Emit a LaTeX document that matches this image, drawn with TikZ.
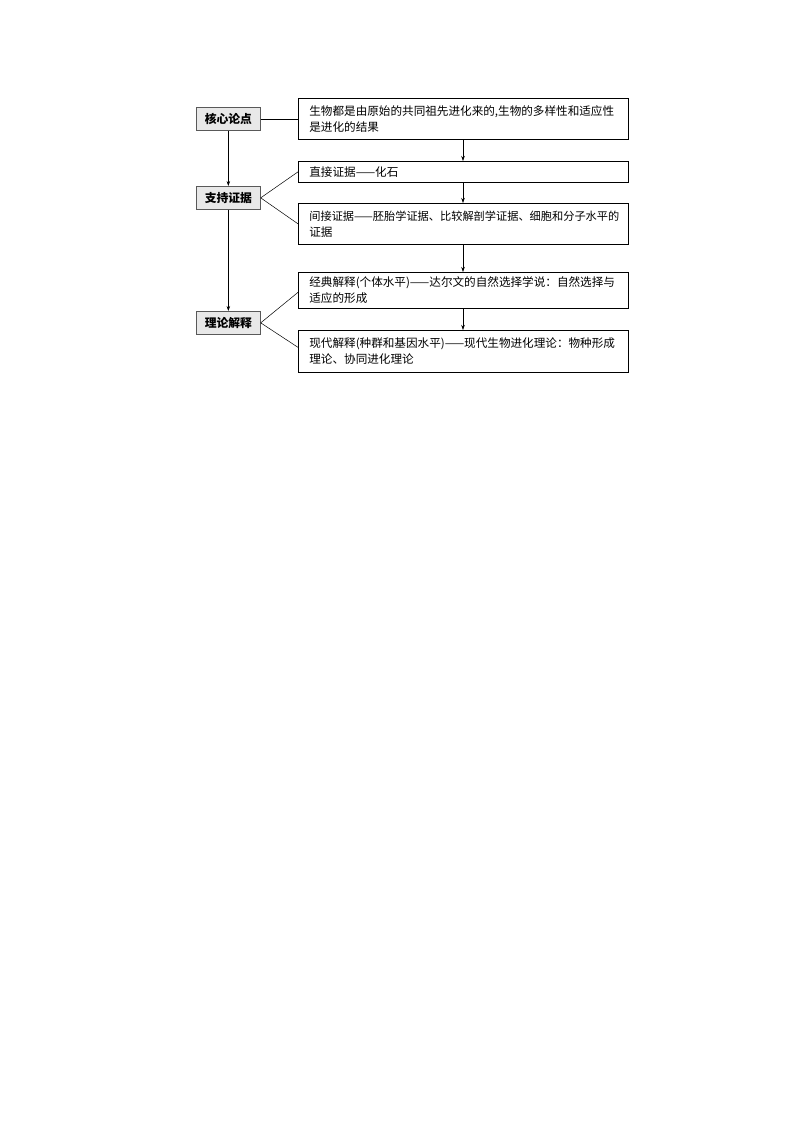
\documentclass[tikz,border=0pt]{standalone}
\usepackage{fontspec}
\setmainfont{Noto Sans CJK SC}
\usetikzlibrary{arrows.meta}
\begin{document}
\begin{tikzpicture}[x=1pt,y=-1pt,
  rbox/.style={draw=black,line width=0.7pt,anchor=north west,minimum width=330pt,inner xsep=11pt,inner ysep=0pt,align=left,text width=308pt,font=\fontsize{11.6}{16}\selectfont},
  lbox/.style={draw=gray!70!black,fill=gray!18,line width=0.7pt,anchor=north west,minimum width=64pt,minimum height=23pt,inner sep=0pt,font=\fontsize{11.8}{14}\selectfont\bfseries},
  arr/.style={-{Stealth[length=5pt,width=3.5pt]},line width=0.5pt},
  ln/.style={line width=0.5pt}]
\useasboundingbox (0,0) rectangle (794,1123);
% left boxes
\node[lbox] (k) at (196,107) {核心论点};
\node[lbox] (z) at (196,186) {支持证据};
\node[lbox] (l) at (196,311) {理论解释};
% right boxes
\node[rbox,minimum height=41pt] (b1) at (298,98) {\mbox{生物都是由原始的共同祖先进化来的,生物的多样性和适应性}\\\mbox{是进化的结果}};
\node[rbox,minimum height=21pt] (b2) at (298,161) {\mbox{直接证据——化石}};
\node[rbox,minimum height=41pt] (b3) at (298,203) {\mbox{\fontsize{11.2}{16}\selectfont 间接证据——胚胎学证据、比较解剖学证据、细胞和分子水平的}\\\mbox{证据}};
\node[rbox,minimum height=36pt] (b4) at (298,272) {\mbox{经典解释(个体水平)——达尔文的自然选择学说：自然选择与}\\\mbox{适应的形成}};
\node[rbox,minimum height=42pt] (b5) at (298,330) {\mbox{现代解释(种群和基因水平)——现代生物进化理论：物种形成}\\\mbox{理论、协同进化理论}};
% arrows right column
\coordinate (ax) at (463,0);
\draw[arr] (b1.south -| ax) -- (b2.north -| ax);
\draw[arr] (b2.south -| ax) -- (b3.north -| ax);
\draw[arr] (b3.south -| ax) -- (b4.north -| ax);
\draw[arr] (b4.south -| ax) -- (b5.north -| ax);
% left column arrows
\draw[arr] (k.south) -- (z.north);
\draw[arr] (z.south) -- (l.north);
% connectors
\draw[ln] (k.east) -- (k.east -| b1.west);
\draw[ln] (z.east) -- (b2.west);
\draw[ln] (z.east) -- (b3.west);
\draw[ln] (l.east) -- ([yshift=-2pt]b4.west);
\draw[ln] (l.east) -- ([yshift=4pt]b5.west);
\end{tikzpicture}
\end{document}
